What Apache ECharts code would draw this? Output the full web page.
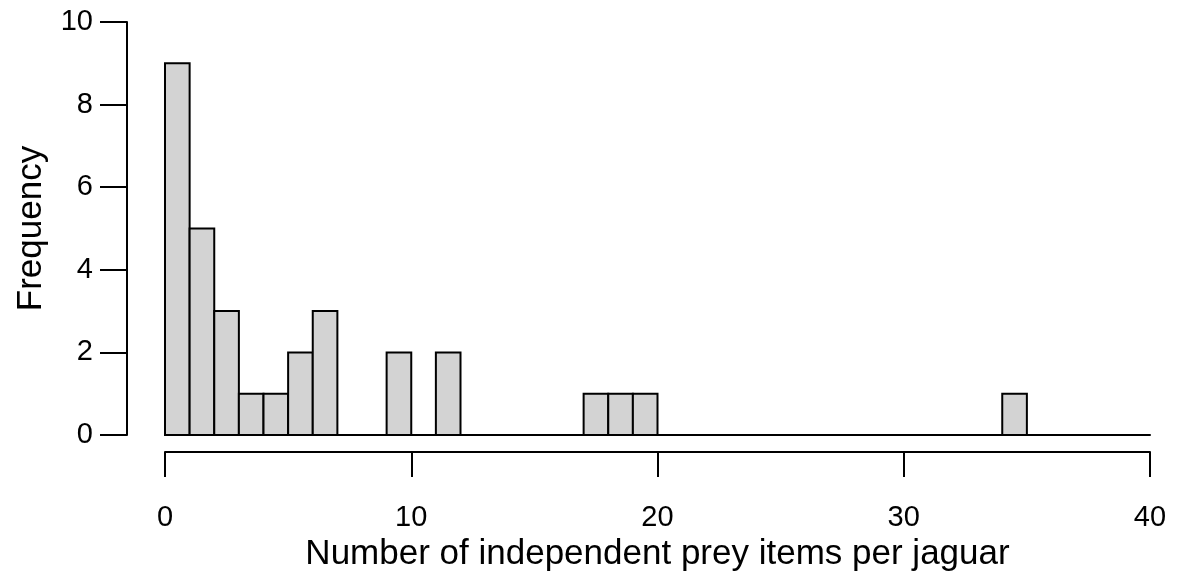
<!DOCTYPE html>
<html>
<head>
<meta charset="utf-8">
<script src="https://cdn.jsdelivr.net/npm/echarts@6/dist/echarts.min.js"></script>
<style>
html,body{margin:0;padding:0;background:#fff;}
#chart{width:1183px;height:577px;}
</style>
</head>
<body>
<div id="chart"></div>
<script>
// Histogram bins (width 1, from 0 to 40)
const binEdges = Array.from({length: 41}, (_, i) => i);
const counts = [9,5,3,1,1,2,3,0,0,2, 0,2,0,0,0,0,0,1,1,1, 0,0,0,0,0,0,0,0,0,0, 0,0,0,0,1,0,0,0,0,0];
const xTicks = [0,10,20,30,40];
const yTicks = [0,2,4,6,8,10];
const xTitle = 'Number of independent prey items per jaguar';
const yTitle = 'Frequency';

const FONT = '"Liberation Sans", Arial, sans-serif';
const chart = echarts.init(document.getElementById('chart'), null, {renderer: 'canvas'});

const bins = counts.map((c, i) => [binEdges[i], binEdges[i + 1], c]);
const yMin = yTicks[0], yMax = yTicks[yTicks.length - 1], yStep = yTicks[1] - yTicks[0];
const xMin = xTicks[0], xMax = xTicks[xTicks.length - 1], xStep = xTicks[1] - xTicks[0];

chart.setOption({
  animation: false,
  backgroundColor: '#fff',
  grid: [
    {left: 127, right: 33, top: 22, bottom: 142, containLabel: false},
    {left: 165, right: 33, top: 22, bottom: 142, containLabel: false}
  ],
  xAxis: [
    {
      gridIndex: 0, type: 'value', min: 0, max: 1, show: false
    },
    {
      gridIndex: 1, type: 'value', min: xMin, max: xMax, position: 'bottom',
      axisLine: {show: true, lineStyle: {color: '#000', width: 2}},
      axisTick: {show: false}, axisLabel: {show: false}, splitLine: {show: false}
    },
    {
      gridIndex: 1, type: 'value', min: xMin, max: xMax, interval: xStep, position: 'bottom', offset: 17,
      axisLine: {show: true, lineStyle: {color: '#000', width: 2}},
      axisTick: {show: true, inside: false, length: 25, lineStyle: {color: '#000', width: 2}},
      axisLabel: {show: true, margin: 51, fontSize: 29, color: '#000', fontFamily: FONT},
      splitLine: {show: false},
      name: xTitle, nameLocation: 'middle', nameGap: 85,
      nameTextStyle: {fontSize: 35, color: '#000', fontFamily: FONT}
    }
  ],
  yAxis: [
    {
      gridIndex: 0, type: 'value', min: yMin, max: yMax, interval: yStep, position: 'left',
      axisLine: {show: true, lineStyle: {color: '#000', width: 2}},
      axisTick: {show: true, inside: false, length: 27, lineStyle: {color: '#000', width: 2}},
      axisLabel: {show: true, margin: 34, fontSize: 29, color: '#000', fontFamily: FONT},
      splitLine: {show: false},
      name: yTitle, nameLocation: 'middle', nameRotate: 90, nameGap: 78,
      nameTextStyle: {fontSize: 35, color: '#000', fontFamily: FONT}
    },
    {
      gridIndex: 1, type: 'value', min: yMin, max: yMax, show: false
    }
  ],
  series: [{
    type: 'custom',
    xAxisIndex: 1, yAxisIndex: 1,
    data: bins,
    renderItem: function (params, api) {
      const x0 = api.value(0), x1 = api.value(1), c = api.value(2);
      if (c <= 0) return null;
      const p0 = api.coord([x0, c]);
      const p1 = api.coord([x1, 0]);
      return {
        type: 'rect',
        shape: {x: p0[0], y: p0[1], width: p1[0] - p0[0], height: p1[1] - p0[1]},
        style: {fill: '#d3d3d3', stroke: '#000', lineWidth: 2}
      };
    }
  }]
});
</script>
</body>
</html>
